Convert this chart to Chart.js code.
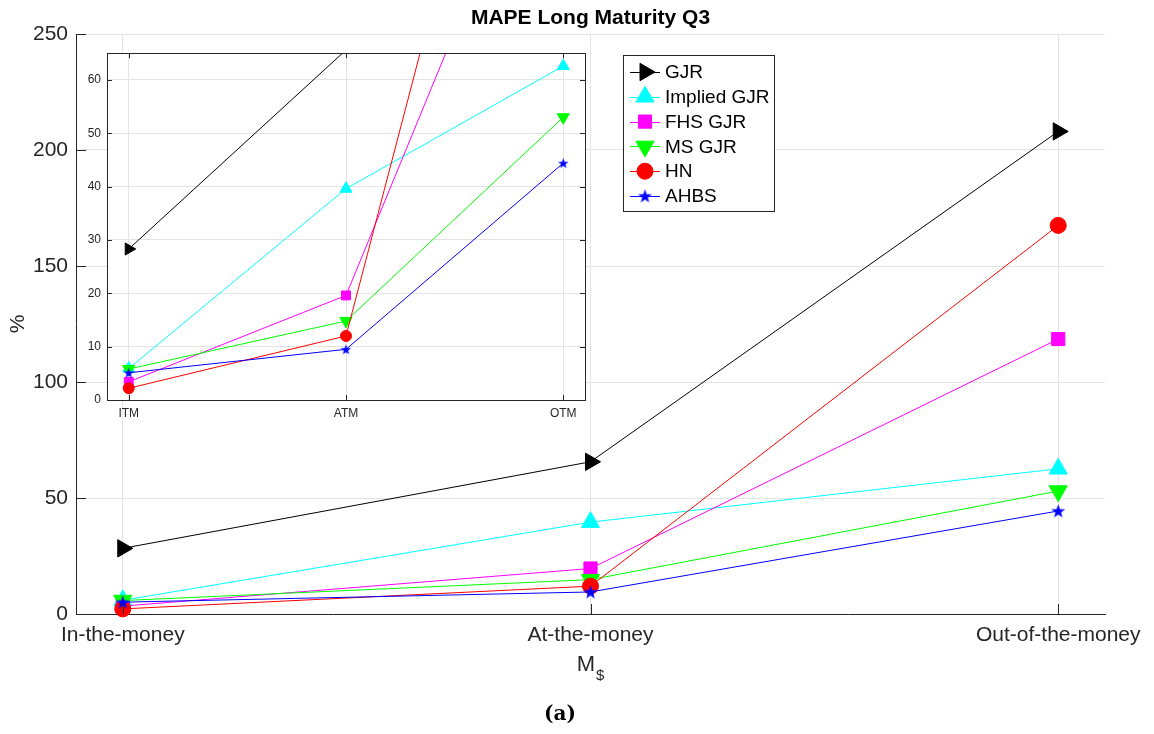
<!DOCTYPE html>
<html><head><meta charset="utf-8">
<script src="https://cdn.jsdelivr.net/npm/chart.js@4.4.0/dist/chart.umd.min.js"></script>
<style>
html,body{margin:0;padding:0;background:#fff;}
#wrap{position:relative;width:1154px;height:734px;overflow:hidden;}
#main{position:absolute;left:0;top:0;}
#inset{position:absolute;left:61px;top:40px;}
</style></head><body>
<div id="wrap"><canvas id="main" width="1154" height="734"></canvas><canvas id="inset" width="540" height="388"></canvas></div>
<script>
// ---- data ----
const categories = ['In-the-money', 'At-the-money', 'Out-of-the-money'];
const insetCategories = ['ITM', 'ATM', 'OTM'];
const seriesNames = ['GJR', 'Implied GJR', 'FHS GJR', 'MS GJR', 'HN', 'AHBS'];
const gjr        = [28.3, 65.6, 208.0];
const impliedGjr = [5.9, 39.6, 62.6];
const fhsGjr     = [3.4, 19.6, 118.5];
const msGjr      = [5.8, 14.8, 53.0];
const hn         = [2.2, 12.0, 167.5];
const ahbs       = [5.1, 9.5, 44.4];
const mainYTicks = [0, 50, 100, 150, 200, 250];
const insetYTicks = [0, 10, 20, 30, 40, 50, 60];

const seriesValues = [gjr, impliedGjr, fhsGjr, msGjr, hn, ahbs];
const FONT = '"Liberation Sans", Arial, Helvetica, sans-serif';
const AX = '#262626';
const GRID = '#e4e4e4';
const INSET_MAX = 65;

function makeStar(outer, color) {
  const s = Math.ceil(outer * 2) + 2;
  const c = document.createElement('canvas');
  c.width = s; c.height = s;
  const g = c.getContext('2d');
  const inner = outer * 0.4;
  g.beginPath();
  for (let k = 0; k < 10; k++) {
    const r = k % 2 ? inner : outer;
    const a = -Math.PI / 2 + k * Math.PI / 5;
    g.lineTo(s / 2 + r * Math.cos(a), s / 2 + 0.5 + r * Math.sin(a));
  }
  g.closePath();
  g.fillStyle = color;
  g.fill();
  return c;
}

const styles = [
  { color: '#000000', style: 'triangle', rot: 90,  r: 10,  ri: 7 },
  { color: '#00ffff', style: 'triangle', rot: 0,   r: 10.5, ri: 7 },
  { color: '#ff00ff', style: 'rect',     rot: 0,   r: 9.3, ri: 6.3 },
  { color: '#00ff00', style: 'triangle', rot: 180, r: 10.5, ri: 7 },
  { color: '#ff0000', style: 'circle',   rot: 0,   r: 8,   ri: 5.5 },
  { color: '#0000ff', style: makeStar(7.3, '#0000ff'), rot: 0, r: 7, ri: 5, styleInset: makeStar(5.5, '#0000ff') }
];

function buildDatasets(inset) {
  return seriesNames.map((name, i) => {
    const st = styles[i];
    const pStyle = inset && st.styleInset ? st.styleInset : st.style;
    const rad = inset ? st.ri : st.r;
    return {
      label: name,
      data: seriesValues[i].map((v, j) => ({ x: j + 1, y: v })),
      borderColor: st.color,
      backgroundColor: st.color,
      borderWidth: 1,
      pointStyle: pStyle,
      pointRotation: st.rot,
      pointRadius: inset ? (ctx => (ctx.raw && ctx.raw.y > INSET_MAX ? 0 : rad)) : rad,
      pointBorderWidth: 1,
      pointBorderColor: st.color,
      pointBackgroundColor: st.color,
      pointHoverRadius: rad,
      tension: 0,
      order: seriesNames.length - i,
      clip: inset ? 0 : false
    };
  });
}

// ---- main chart plugin ----
const mainDecor = {
  id: 'mainDecor',
  afterDraw(chart) {
    const ctx = chart.ctx;
    const ca = chart.chartArea;
    const xs = chart.scales.x, ys = chart.scales.y;
    ctx.save();
    // inward ticks
    ctx.strokeStyle = AX; ctx.lineWidth = 1;
    ctx.beginPath();
    mainYTicks.forEach(v => {
      const py = Math.round(ys.getPixelForValue(v)) + 0.5;
      ctx.moveTo(ca.left, py); ctx.lineTo(ca.left + 10, py);
    });
    categories.forEach((c, i) => {
      const px = Math.round(xs.getPixelForValue(i + 1)) + 0.5;
      ctx.moveTo(px, ca.bottom); ctx.lineTo(px, ca.bottom - 10);
    });
    ctx.stroke();

    const cx = (ca.left + ca.right) / 2;
    // title
    ctx.fillStyle = '#000';
    ctx.font = 'bold 21px ' + FONT;
    ctx.textAlign = 'center'; ctx.textBaseline = 'middle';
    ctx.fillText('MAPE Long Maturity Q3', cx, 18);
    // y label
    ctx.fillStyle = AX;
    ctx.font = '21px ' + FONT;
    ctx.save();
    ctx.translate(18, (ca.top + ca.bottom) / 2);
    ctx.rotate(-Math.PI / 2);
    ctx.fillText('%', 0, 0);
    ctx.restore();
    // x label M$
    ctx.textAlign = 'left'; ctx.textBaseline = 'alphabetic';
    ctx.font = '22px ' + FONT;
    const wM = ctx.measureText('M').width;
    ctx.font = '15px ' + FONT;
    const wS = ctx.measureText('$').width;
    const x0 = cx - (wM + wS + 1) / 2;
    ctx.font = '22px ' + FONT;
    ctx.fillText('M', x0, 671);
    ctx.font = '15px ' + FONT;
    ctx.fillText('$', x0 + wM + 1, 680);
    // caption
    ctx.fillStyle = '#000';
    ctx.textAlign = 'center'; ctx.textBaseline = 'middle';
    ctx.font = 'bold 20px "DejaVu Serif", "Liberation Serif", serif';
    ctx.fillText('(a)', 560, 715);

    // legend
    const lx = 623.5, ly = 55.5, lw = 151, lh = 156;
    ctx.fillStyle = '#fff';
    ctx.fillRect(lx, ly, lw, lh);
    ctx.strokeStyle = AX; ctx.lineWidth = 1;
    ctx.strokeRect(lx, ly, lw, lh);
    seriesNames.forEach((name, i) => {
      const st = styles[i];
      const yy = 72 + i * 24.8;
      ctx.strokeStyle = st.color; ctx.lineWidth = 1;
      ctx.beginPath(); ctx.moveTo(630, Math.round(yy) + 0.5); ctx.lineTo(660, Math.round(yy) + 0.5); ctx.stroke();
      ctx.fillStyle = st.color; ctx.strokeStyle = st.color;
      Chart.helpers.drawPoint(ctx, { pointStyle: st.style, rotation: st.rot, radius: st.r, borderWidth: 1 }, 645, yy);
      ctx.fillStyle = '#000';
      ctx.font = '19px ' + FONT;
      ctx.textAlign = 'left'; ctx.textBaseline = 'middle';
      ctx.fillText(name, 665, yy + 1);
    });
    ctx.restore();
  }
};

new Chart(document.getElementById('main'), {
  type: 'line',
  data: { datasets: buildDatasets(false) },
  options: {
    responsive: false, animation: false, devicePixelRatio: 1,
    layout: { padding: { top: 34, right: 49, bottom: 0, left: 0 } },
    plugins: { legend: { display: false }, tooltip: { enabled: false }, title: { display: false } },
    scales: {
      x: {
        type: 'linear', min: 0.9, max: 3.1,
        afterBuildTicks: s => { s.ticks = categories.map((c, i) => ({ value: i + 1 })); },
        afterFit: s => { s.height = 120; },
        ticks: { callback: v => categories[Math.round(v) - 1], font: { family: FONT, size: 21 }, color: AX, padding: 9, maxRotation: 0, autoSkip: false },
        grid: { color: GRID, drawTicks: false },
        border: { color: AX, width: 1 }
      },
      y: {
        type: 'linear', min: 0, max: 250,
        afterBuildTicks: s => { s.ticks = mainYTicks.map(v => ({ value: v })); },
        afterFit: s => { s.width = 76; },
        ticks: { font: { family: FONT, size: 21 }, color: AX, padding: 8 },
        grid: { color: GRID, drawTicks: false },
        border: { color: AX, width: 1 }
      }
    }
  },
  plugins: [mainDecor]
});

// ---- inset chart ----
const insetDecor = {
  id: 'insetDecor',
  beforeDraw(chart) {
    const ctx = chart.ctx, ca = chart.chartArea;
    ctx.save();
    ctx.fillStyle = '#fff';
    ctx.fillRect(ca.left, ca.top, ca.right - ca.left, ca.bottom - ca.top);
    ctx.restore();
  },
  afterDraw(chart) {
    const ctx = chart.ctx, ca = chart.chartArea;
    const xs = chart.scales.x, ys = chart.scales.y;
    ctx.save();
    ctx.strokeStyle = AX; ctx.lineWidth = 1;
    ctx.beginPath();
    insetYTicks.forEach(v => {
      const py = Math.round(ys.getPixelForValue(v)) + 0.5;
      ctx.moveTo(ca.left, py); ctx.lineTo(ca.left + 5, py);
      ctx.moveTo(ca.right, py); ctx.lineTo(ca.right - 5, py);
    });
    insetCategories.forEach((c, i) => {
      const px = Math.round(xs.getPixelForValue(i + 1)) + 0.5;
      ctx.moveTo(px, ca.bottom); ctx.lineTo(px, ca.bottom - 5);
      ctx.moveTo(px, ca.top); ctx.lineTo(px, ca.top + 5);
    });
    ctx.stroke();
    ctx.strokeRect(Math.round(ca.left) + 0.5, Math.round(ca.top) + 0.5, Math.round(ca.right - ca.left), Math.round(ca.bottom - ca.top));
    ctx.restore();
  }
};

new Chart(document.getElementById('inset'), {
  type: 'line',
  data: { datasets: buildDatasets(true) },
  options: {
    responsive: false, animation: false, devicePixelRatio: 1,
    layout: { padding: { top: 12, right: 16, bottom: 0, left: 0 } },
    plugins: { legend: { display: false }, tooltip: { enabled: false }, title: { display: false } },
    scales: {
      x: {
        type: 'linear', min: 0.9, max: 3.1,
        afterBuildTicks: s => { s.ticks = insetCategories.map((c, i) => ({ value: i + 1 })); },
        afterFit: s => { s.height = 28; },
        ticks: { callback: v => insetCategories[Math.round(v) - 1], font: { family: FONT, size: 12 }, color: AX, padding: 6, maxRotation: 0, autoSkip: false },
        grid: { color: GRID, drawTicks: false },
        border: { display: false }
      },
      y: {
        type: 'linear', min: 0, max: INSET_MAX,
        afterBuildTicks: s => { s.ticks = insetYTicks.map(v => ({ value: v })); },
        afterFit: s => { s.width = 46; },
        ticks: { font: { family: FONT, size: 12 }, color: AX, padding: 6 },
        grid: { color: GRID, drawTicks: false },
        border: { display: false }
      }
    }
  },
  plugins: [insetDecor]
});
</script>
</body></html>
